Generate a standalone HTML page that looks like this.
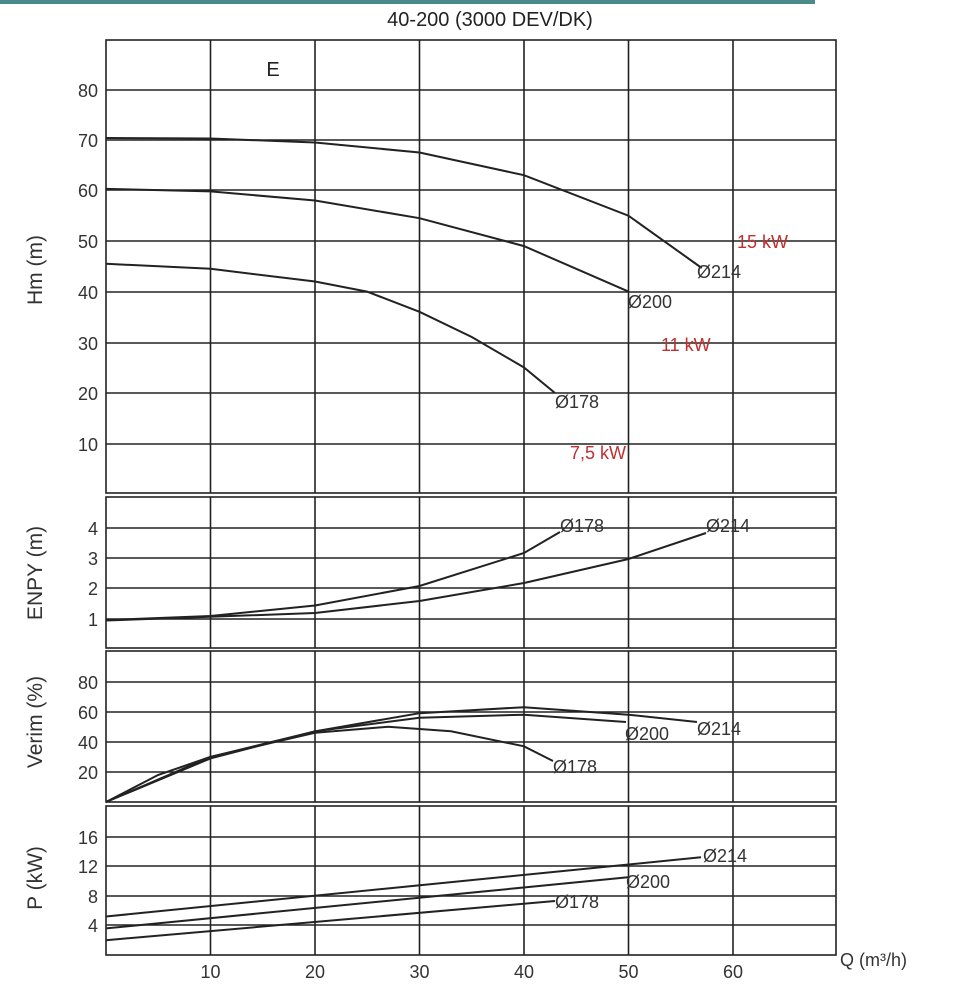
<!DOCTYPE html>
<html><head><meta charset="utf-8"><style>body{margin:0;background:#fff}svg{display:block}</style></head><body>
<svg width="955" height="1000" viewBox="0 0 955 1000" font-family="Liberation Sans, sans-serif">
<rect x="0" y="0" width="815" height="4" fill="#4a8a8a"/>
<text x="490" y="26" font-size="20" text-anchor="middle" fill="#222">40-200 (3000 DEV/DK)</text>
<g stroke="#222" fill="none" stroke-width="1.6">
<rect x="106" y="40" width="730" height="453"/>
<rect x="106" y="497" width="730" height="151"/>
<rect x="106" y="651" width="730" height="151"/>
<rect x="106" y="806" width="730" height="149"/>
<path d="M210.5 40V493M315 40V493M419.5 40V493M524 40V493M628.5 40V493M733 40V493
M210.5 497V648M315 497V648M419.5 497V648M524 497V648M628.5 497V648M733 497V648
M210.5 651V802M315 651V802M419.5 651V802M524 651V802M628.5 651V802M733 651V802
M210.5 806V955M315 806V955M419.5 806V955M524 806V955M628.5 806V955M733 806V955"/>
<path d="M106 90H836M106 140H836M106 190H836M106 241H836M106 292H836M106 343H836M106 393H836M106 444H836
M106 528H836M106 558H836M106 588H836M106 619H836
M106 682H836M106 712H836M106 742H836M106 772H836
M106 837H836M106 866H836M106 896H836M106 925H836"/>
</g>
<g stroke="#222" fill="none" stroke-width="2">
<polyline points="106,138 210.5,138.5 315,142.5 419.5,152.5 524,175.2 628.5,215.7 701.7,268"/>
<polyline points="106,188.9 210.5,191.4 315,200.5 419.5,218.2 524,246.1 628.5,291.6"/>
<polyline points="106,263.8 210.5,268.8 315,281.5 367,291.6 419.5,311.8 472,337.1 524,367.5 555,393"/>
<polyline points="106,620 210.5,616 315,605.5 419.5,586 524,553 560,532"/>
<polyline points="106,620.5 315,613 419.5,601 524,583 628.5,559 706,533"/>
<polyline points="106,802 158,775 210.5,756.9 315,732.8 388,726.8 451,731.3 524,746.3 553,761"/>
<polyline points="106,802 210.5,758.4 315,731.3 419.5,717.7 524,714.7 626,722"/>
<polyline points="106,802 210.5,756.9 315,731.3 419.5,713.2 524,707.2 628.5,714.7 697,722"/>
<line x1="106" y1="916.5" x2="701" y2="857.3"/>
<line x1="106" y1="928.4" x2="628" y2="877.3"/>
<line x1="106" y1="940.2" x2="555" y2="901"/>
</g>
<g font-size="18" fill="#333" text-anchor="end">
<text x="98" y="97">80</text><text x="98" y="147">70</text><text x="98" y="197">60</text><text x="98" y="248">50</text><text x="98" y="299">40</text><text x="98" y="350">30</text><text x="98" y="400">20</text><text x="98" y="451">10</text>
<text x="98" y="535">4</text><text x="98" y="565">3</text><text x="98" y="595">2</text><text x="98" y="626">1</text>
<text x="98" y="689">80</text><text x="98" y="719">60</text><text x="98" y="749">40</text><text x="98" y="779">20</text>
<text x="98" y="844">16</text><text x="98" y="873">12</text><text x="98" y="903">8</text><text x="98" y="932">4</text>
</g>
<g font-size="18" fill="#333" text-anchor="middle">
<text x="210.5" y="978">10</text><text x="315" y="978">20</text><text x="419.5" y="978">30</text><text x="524" y="978">40</text><text x="628.5" y="978">50</text><text x="733" y="978">60</text>
</g>
<text x="840" y="966" font-size="18" fill="#333">Q (m³/h)</text>
<text x="273" y="76" font-size="20" fill="#222" text-anchor="middle">E</text>
<g font-size="21" fill="#333" text-anchor="middle">
<text transform="translate(42,270) rotate(-90)">Hm (m)</text>
<text transform="translate(42,573) rotate(-90)">ENPY (m)</text>
<text transform="translate(42,722) rotate(-90)">Verim (%)</text>
<text transform="translate(42,878) rotate(-90)">P (kW)</text>
</g>
<g font-size="18" fill="#333">
<text x="697" y="278">Ø214</text><text x="628" y="308">Ø200</text><text x="555" y="408">Ø178</text>
<text x="560" y="532">Ø178</text><text x="706" y="532">Ø214</text>
<text x="625" y="740">Ø200</text><text x="697" y="735">Ø214</text><text x="553" y="773">Ø178</text>
<text x="703" y="862">Ø214</text><text x="626" y="888">Ø200</text><text x="555" y="908">Ø178</text>
</g>
<g font-size="18" fill="#c03030">
<text x="737" y="248">15 kW</text><text x="661" y="351">11 kW</text><text x="570" y="459">7,5 kW</text>
</g>
</svg>
</body></html>
